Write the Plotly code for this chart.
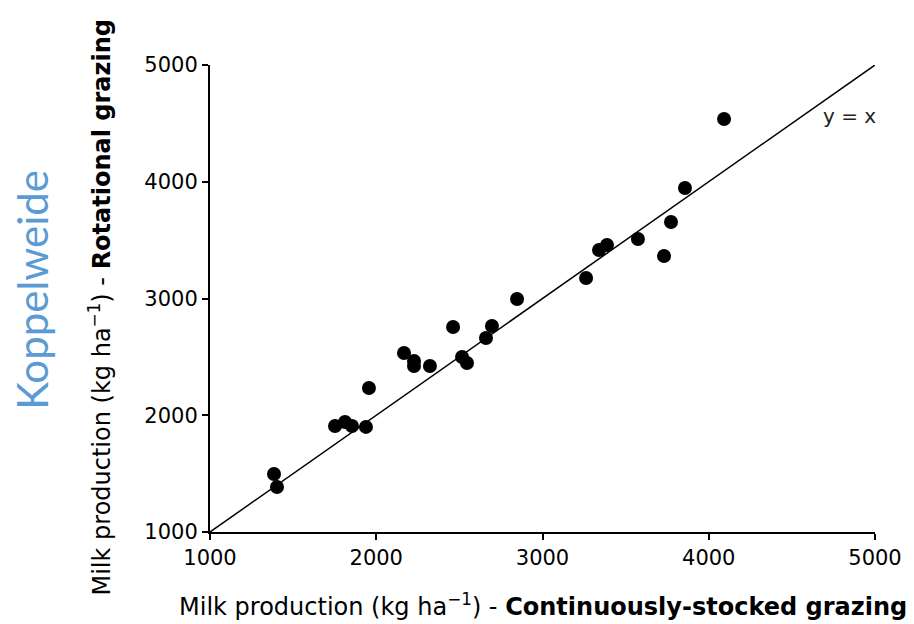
import plotly.graph_objects as go

continuous = [1385, 1403, 1752, 1812, 1854, 1938, 1956, 2167, 2227, 2227, 2323,
              2462, 2516, 2546, 2660, 2696, 2847, 3262, 3340, 3388, 3574, 3731,
              3773, 3857, 4092]
rotational = [1497, 1385, 1908, 1942, 1908, 1900, 2233, 2533, 2465, 2422, 2422,
              2756, 2499, 2448, 2662, 2764, 2996, 3176, 3415, 3458, 3510, 3364,
              3655, 3946, 4537]
line_x = [1000, 5000]
line_y = [1000, 5000]
tick_vals = [1000, 2000, 3000, 4000, 5000]
tick_text = ["1000", "2000", "3000", "4000", "5000"]

font_main = "DejaVu Sans, Arial, sans-serif"

fig = go.Figure()
fig.add_trace(go.Scatter(x=line_x, y=line_y, mode="lines",
                         line=dict(color="black", width=1.5), showlegend=False,
                         hoverinfo="skip"))
fig.add_trace(go.Scatter(x=continuous, y=rotational, mode="markers",
                         marker=dict(color="black", size=14, line=dict(width=0)),
                         showlegend=False))

axis_common = dict(
    range=[1000, 5000], tickvals=tick_vals, ticktext=tick_text,
    showgrid=False, zeroline=False, showline=True, linecolor="black",
    linewidth=2, ticks="outside", ticklen=6, tickwidth=2, tickcolor="black",
    tickfont=dict(family=font_main, size=21, color="black"),
)
fig.update_xaxes(**axis_common)
fig.update_yaxes(**axis_common)

fig.add_annotation(text="y = x", x=4846, y=4563, xref="x", yref="y",
                   showarrow=False, font=dict(family=font_main, size=20, color="#222"))
fig.add_annotation(
    text="Milk production (kg ha<sup>\u22121</sup>) - <b>Continuously-stocked grazing</b>",
    xref="paper", yref="paper", x=0.501, y=-0.156, xanchor="center", yanchor="middle",
    showarrow=False, font=dict(family=font_main, size=24, color="black"))
fig.add_annotation(
    text="Milk production (kg ha<sup>\u22121</sup>) - <b>Rotational grazing</b>",
    xref="paper", yref="paper", x=-0.166, y=0.482, xanchor="center", yanchor="middle",
    textangle=-90, showarrow=False, font=dict(family=font_main, size=24, color="black"))
fig.add_annotation(
    text="Koppelweide", xref="paper", yref="paper", x=-0.268, y=0.518,
    xanchor="center", yanchor="middle", textangle=-90, showarrow=False,
    font=dict(family="Lato, Open Sans, sans-serif", size=42, color="#5b9bd5"))

fig.update_layout(
    width=914, height=624,
    margin=dict(l=202, r=47, t=57, b=100, autoexpand=False),
    plot_bgcolor="white", paper_bgcolor="white",
)

fig.write_html("out.html")
